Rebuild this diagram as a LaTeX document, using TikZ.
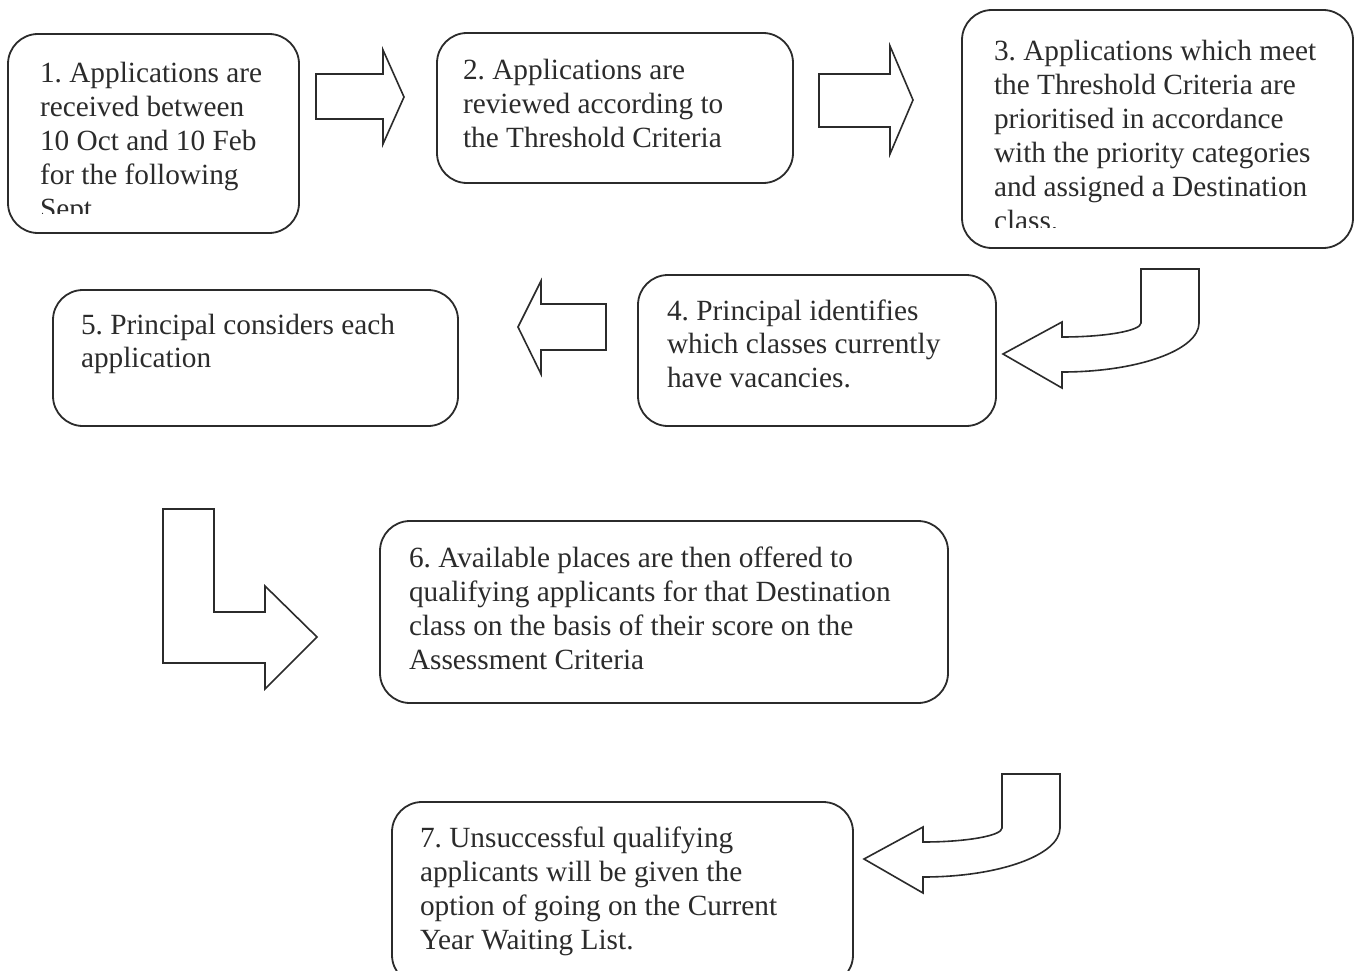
\documentclass[tikz,border=0pt]{standalone}
\usepackage{fontspec}
\setmainfont{Liberation Serif}
\definecolor{ink}{HTML}{2B2B2B}
\tikzset{
 box/.style={draw=ink, line width=1.8pt, rounded corners=30pt, inner sep=0pt, outer sep=0pt},
 txt/.style={anchor=base west, inner sep=0pt, outer sep=0pt, text=ink},
 blockarrow/.style={draw=ink, line width=1.6pt, line join=miter, fill=white},
}
\newcommand{\bodytext}[1]{\parbox[t]{600pt}{\fontsize{29.3pt}{33.9pt}\selectfont\frenchspacing\raggedright #1}}
\begin{document}
\begin{tikzpicture}[x=1pt,y=-1pt]
\clip (0,0) rectangle (1359,971);
\fill[white] (0,0) rectangle (1359,971);

% boxes
\node[box, minimum width=291pt, minimum height=199pt] (b1) at (153.5,133.5) {};
\node[box, minimum width=356pt, minimum height=150pt] (b2) at (615,108) {};
\node[box, minimum width=391pt, minimum height=238pt] (b3) at (1157.5,129) {};
\node[box, minimum width=358pt, minimum height=151pt] (b4) at (817,350.5) {};
\node[box, minimum width=405pt, minimum height=136pt] (b5) at (255.5,358) {};
\node[box, minimum width=568pt, minimum height=182pt] (b6) at (664,612) {};
\node[box, minimum width=461pt, minimum height=183pt] (b7) at (622.5,893.5) {};

% texts
\begin{scope}
\clip (8,34) rectangle (299,213);
\node[txt] (t1) at (40,83) {\bodytext{1. Applications are\\received between\\10 Oct and 10 Feb\\for the following\\Sept}};
\end{scope}
\node[txt] (t2) at (463,79.5) {\bodytext{2. Applications are\\reviewed according to\\the Threshold Criteria}};
\begin{scope}
\clip (962,10) rectangle (1353,227);
\node[txt] (t3) at (994,61) {\bodytext{3. Applications which meet\\the Threshold Criteria are\\prioritised in accordance\\with the priority categories\\and assigned a Destination\\class.}};
\end{scope}
\node[txt] (t4) at (667,320) {\bodytext{4. Principal identifies\\which classes currently\\have vacancies.}};
\node[txt] (t5) at (81,334) {\bodytext{5. Principal considers each\\application}};
\node[txt] (t6) at (409,567.5) {\bodytext{6. Available places are then offered to\\qualifying applicants for that Destination\\class on the basis of their score on the\\Assessment Criteria}};
\node[txt] (t7) at (420,847.5) {\bodytext{7. Unsuccessful qualifying\\applicants will be given the\\option of going on the Current\\Year Waiting List.}};

% block arrows
\draw[blockarrow] (316,74) -- (383,74) -- (383,50) -- (404,97) -- (383,144) -- (383,119) -- (316,119) -- cycle;
\draw[blockarrow] (819,74) -- (890,74) -- (890,46) -- (913,100) -- (890,154) -- (890,127) -- (819,127) -- cycle;
\draw[blockarrow] (606,304) -- (541,304) -- (541,281) -- (518,327) -- (541,374) -- (541,350) -- (606,350) -- cycle;
\draw[blockarrow] (163,509) -- (214,509) -- (214,612) -- (265,612) -- (265,586) -- (317,637) -- (265,689) -- (265,663) -- (163,663) -- cycle;

% curved arrows
\foreach \dx/\dy in {139/-505, 0/0} {
\begin{scope}[shift={(\dx,\dy)}]
\draw[blockarrow] (1002,774) -- (1060,774) -- (1060,828)
  .. controls (1060,855.1) and (998.7,877) .. (923,877)
  -- (923,893) -- (864,859) -- (923,827) -- (923,842)
  .. controls (966.6,842) and (1002,835.7) .. (1002,828) -- cycle;
\end{scope}
}
\end{tikzpicture}
\end{document}
